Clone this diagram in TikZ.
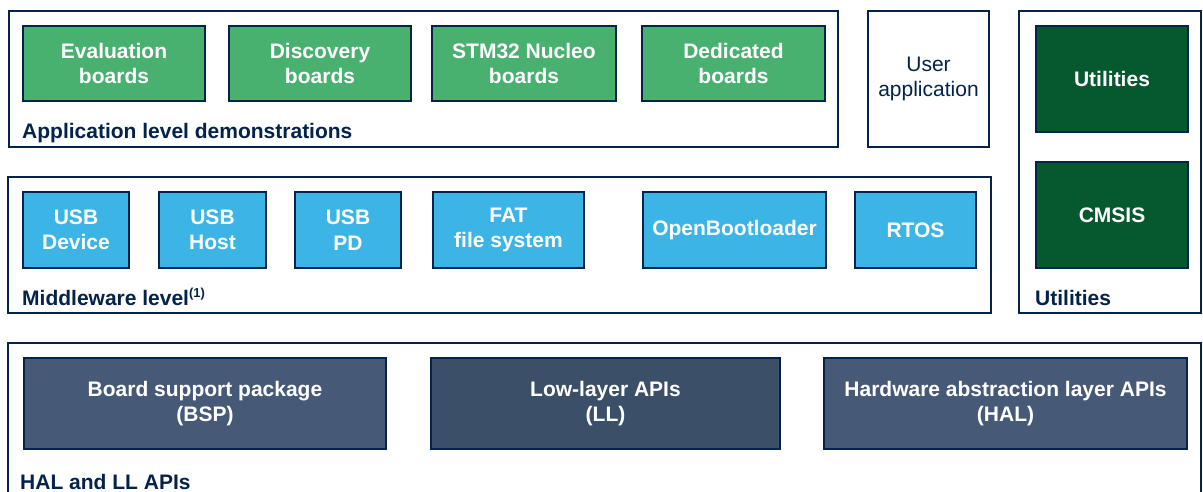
\documentclass[tikz,border=0pt]{standalone}
\usepackage{fontspec}
\setmainfont{Liberation Sans}
\definecolor{navy}{HTML}{03234B}
\definecolor{stgreen}{HTML}{49B170}
\definecolor{dkgreen}{HTML}{06582F}
\definecolor{stblue}{HTML}{3CB4E6}
\definecolor{slate}{HTML}{465A78}
\definecolor{slatedk}{HTML}{3B5068}
\tikzset{
  outer/.style={draw=navy, line width=2pt, fill=white, inner sep=0pt},
  inbox/.style={draw=navy, line width=2pt, inner sep=0pt, text=white, align=center,
    font=\fontsize{21}{25.5}\selectfont\bfseries},
  grn/.style={inbox, fill=stgreen},
  dgrn/.style={inbox, fill=dkgreen},
  blu/.style={inbox, fill=stblue},
  slt/.style={inbox, fill=slate},
  sltd/.style={inbox, fill=slatedk},
  sz/.style 2 args={minimum width=#1pt, minimum height=#2pt},
  lvl/.style={anchor=base west, inner sep=0pt, text=navy, font=\fontsize{21}{25}\selectfont\bfseries},
}
\begin{document}
\begin{tikzpicture}[x=1pt,y=-1pt]
\useasboundingbox (0,0) rectangle (1203,491);
% outer frames
\node[outer, sz={829}{136}] (app) at (423.5,79) {};
\node[outer, sz={121}{136}, text=navy, align=center, font=\fontsize{21}{25.5}\selectfont] (user) at (928.5,79) {User\\application};
\node[outer, sz={182}{302}] (util) at (1110,162) {};
\node[outer, sz={983}{136}] (mid) at (499.5,245) {};
\node[outer, sz={1193}{157}] (hal) at (604.5,421.5) {};
% application boards
\node[grn, sz={182}{75}] (eval) at (114,63.5) {Evaluation\\boards};
\node[grn, sz={182}{75}] (disc) at (320,63.5) {Discovery\\boards};
\node[grn, sz={184}{75}] (nucleo) at (524,63.5) {STM32 Nucleo\\boards};
\node[grn, sz={183}{75}] (ded) at (733.5,63.5) {Dedicated\\boards};
\node[lvl] (applbl) at (22,138) {Application level demonstrations};
% utilities
\node[dgrn, sz={152}{106}] (utils) at (1112,79) {Utilities};
\node[dgrn, sz={152}{106}] (cmsis) at (1112,215) {CMSIS};
\node[lvl] (utillbl) at (1035,305) {Utilities};
% middleware
\node[blu, sz={106}{76}] (usbd) at (76,230) {USB\\Device};
\node[blu, sz={107}{76}] (usbh) at (212.5,230) {USB\\Host};
\node[blu, sz={106}{76}] (usbpd) at (348,230) {USB\\PD};
\node[blu, sz={151}{76}] (fat) at (508.5,230) {FAT\\file system};
\node[blu, sz={183}{76}] (obl) at (734.5,230) {OpenBootloader};
\node[blu, sz={121}{76}] (rtos) at (915.5,230) {RTOS};
\node[lvl] (midlbl) at (22,305) {Middleware level\textsuperscript{\fontsize{13}{13}\selectfont(1)}};
% HAL / LL
\node[slt, sz={362}{91}] (bsp) at (205,403.5) {Board support package\\(BSP)};
\node[sltd, sz={349}{91}] (ll) at (605.5,403.5) {Low-layer APIs\\(LL)};
\node[slt, sz={363}{91}] (halapi) at (1005.5,403.5) {Hardware abstraction layer APIs\\(HAL)};
\node[lvl] (hallbl) at (20,489) {HAL and LL APIs};
\end{tikzpicture}
\end{document}
